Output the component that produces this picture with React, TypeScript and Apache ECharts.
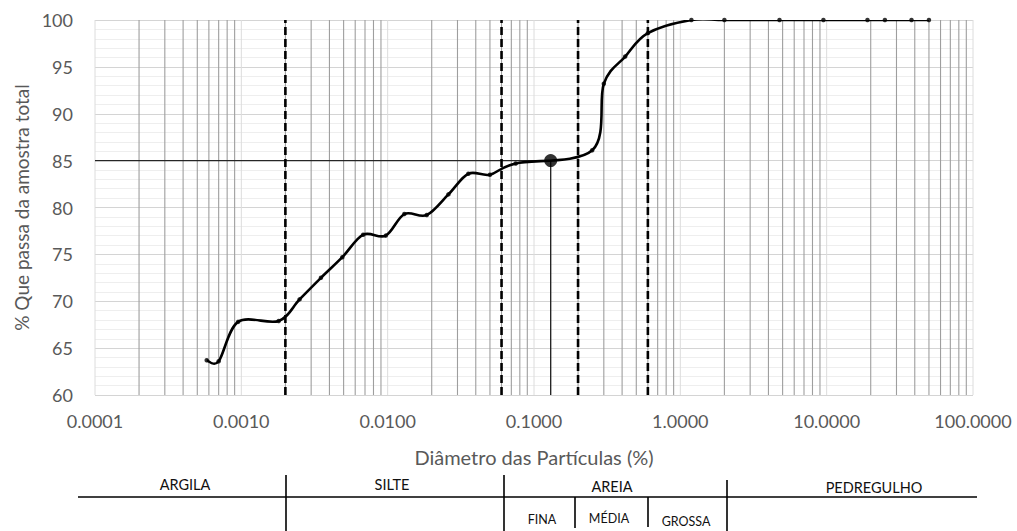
import React, { useEffect, useRef } from "react";
import * as echarts from "echarts";

// Data
const diameters = [
  0.00058, 0.0007, 0.00095, 0.0018, 0.0025, 0.0035, 0.0049, 0.0068, 0.0097,
  0.013, 0.0185, 0.026, 0.0356, 0.05, 0.075, 0.25, 0.3, 0.42, 0.6, 1.19, 2.0,
  4.76, 9.5, 19.0, 25.0, 38.0, 50.0,
];
const passing = [
  63.7, 63.6, 67.8, 67.9, 70.2, 72.5, 74.7, 77.1, 77.0, 79.3, 79.2, 81.4, 83.6,
  83.5, 84.7, 86.1, 93.2, 96.1, 98.6, 100, 100, 100, 100, 100, 100, 100, 100,
];
const d85Diameter = 0.13;
const d85Value = 85;
const boundaryDiameters = [0.002, 0.06, 0.2, 0.6];

const xMin = 0.0001;
const xMax = 100;
const yMin = 60;
const yMax = 100;
const yInterval = 5;

const xAxisName = "Diâmetro das Partículas (%)";
const yAxisName = "% Que passa da amostra total";

const tableMain = ["ARGILA", "SILTE", "AREIA", "PEDREGULHO"];
const tableSub = ["FINA", "MÉDIA", "GROSSA"];

// log gridlines: decades and 2..9 of each decade
const decadeX: number[] = [];
const minorX: number[] = [];
for (let e = -4; e <= 2; e++) {
  decadeX.push(Number(Math.pow(10, e).toPrecision(3)));
  if (e < 2) {
    for (let m = 2; m <= 9; m++) {
      minorX.push(Number((m * Math.pow(10, e)).toPrecision(3)));
    }
  }
}

const FONT = "Lato, 'Open Sans', sans-serif";

export default function App() {
  const ref = useRef<HTMLDivElement>(null);

  useEffect(() => {
    document.body.style.margin = "0";
    if (!ref.current) return;
    const chart = echarts.init(ref.current, undefined, { renderer: "svg" });

    const curve = diameters.map((d, i) => [d, passing[i]]);

    const lineEl = (x1: number, y1: number, x2: number, y2: number, w = 1.6) => ({
      type: "line",
      shape: { x1, y1, x2, y2 },
      style: { stroke: "#000", lineWidth: w },
      silent: true,
    });
    const textEl = (x: number, y: number, text: string, size: number) => ({
      type: "text",
      x,
      y,
      style: {
        text,
        fill: "#111",
        font: `${size}px ${FONT}`,
        align: "center",
        verticalAlign: "middle",
      },
      silent: true,
    });

    // vertical lines across the plot at given diameters
    const vLines = (values: number[], color: string, width: number, dash: number[] | null, z: number) => ({
      type: "custom",
      data: values.map((v) => [v, yMin]),
      encode: { x: 0, y: 1 },
      z,
      silent: true,
      clip: false,
      renderItem: (_params: any, api: any) => {
        const x = api.value(0);
        const p1 = api.coord([x, yMin]);
        const p2 = api.coord([x, yMax]);
        const style: any = { stroke: color, lineWidth: width, fill: "none" };
        if (dash) style.lineDash = dash;
        return {
          type: "line",
          shape: { x1: p1[0], y1: p1[1], x2: p2[0], y2: p2[1] },
          style,
        };
      },
    });

    // Excel-like smoothed curve (Catmull-Rom in pixel space)
    const renderCurve = (params: any, api: any) => {
      if (params.dataIndex !== 0) return null;
      const pts = curve.map((p) => api.coord(p));
      let d = `M${pts[0][0]},${pts[0][1]}`;
      for (let i = 0; i < pts.length - 1; i++) {
        const p0 = pts[Math.max(0, i - 1)];
        const p1 = pts[i];
        const p2 = pts[i + 1];
        const p3 = pts[Math.min(pts.length - 1, i + 2)];
        const c1x = p1[0] + (p2[0] - p0[0]) / 6;
        const c1y = p1[1] + (p2[1] - p0[1]) / 6;
        const c2x = p2[0] - (p3[0] - p1[0]) / 6;
        const c2y = p2[1] - (p3[1] - p1[1]) / 6;
        d += ` C${c1x},${c1y} ${c2x},${c2y} ${p2[0]},${p2[1]}`;
      }
      return {
        type: "path",
        shape: { pathData: d },
        style: { stroke: "#000", lineWidth: 2.6, fill: "none" },
      };
    };

    chart.setOption({
      animation: false,
      backgroundColor: "#fff",
      grid: { left: 95, right: 44, top: 20, bottom: 136 },
      xAxis: {
        type: "log",
        logBase: 10,
        min: xMin,
        max: xMax,
        splitNumber: 6,
        name: xAxisName,
        nameLocation: "middle",
        nameGap: 52,
        nameTextStyle: { color: "#595959", fontSize: 20, fontFamily: FONT },
        axisLine: { show: false },
        axisTick: { show: false },
        axisLabel: {
          color: "#595959",
          fontSize: 18,
          fontFamily: FONT,
          margin: 17,
          formatter: (v: number) => v.toFixed(4),
        },
        splitLine: { show: false },
      },
      yAxis: {
        type: "value",
        min: yMin,
        max: yMax,
        interval: yInterval,
        name: yAxisName,
        nameLocation: "middle",
        nameRotate: 90,
        nameGap: 64,
        nameTextStyle: { color: "#595959", fontSize: 19, fontFamily: FONT },
        axisLine: { show: false },
        axisTick: { show: false },
        axisLabel: { color: "#595959", fontSize: 18, fontFamily: FONT, margin: 22 },
        splitLine: { show: true, lineStyle: { color: "#d4d4d4", width: 1 } },
        minorTick: { show: false, splitNumber: 5 },
        minorSplitLine: { show: true, lineStyle: { color: "#eeeeee", width: 1 } },
      },
      series: [
        vLines(decadeX, "#dcdcdc", 1, null, 1),
        vLines(minorX, "#9e9e9e", 1.1, null, 1),
        vLines(boundaryDiameters, "#000", 2.6, [8, 4], 4),
        {
          type: "line",
          data: [
            [xMin, d85Value],
            [d85Diameter, d85Value],
            [d85Diameter, yMin],
          ],
          showSymbol: false,
          symbol: "none",
          z: 3,
          lineStyle: { color: "#262626", width: 1.4 },
        },
        {
          type: "custom",
          data: curve,
          clip: true,
          z: 5,
          silent: true,
          renderItem: renderCurve,
        },
        {
          type: "scatter",
          data: curve,
          symbol: "circle",
          symbolSize: 4.5,
          z: 6,
          itemStyle: { color: "#000" },
        },
        {
          type: "scatter",
          data: [[d85Diameter, d85Value]],
          symbolSize: 13,
          z: 7,
          itemStyle: { color: "#000" },
        },
      ],
      graphic: [
        lineEl(78, 497, 977, 497),
        lineEl(286, 475, 286, 531),
        lineEl(504, 475, 504, 531),
        lineEl(727, 480, 727, 531),
        lineEl(575, 497, 575, 528),
        lineEl(648, 497, 648, 527),
        textEl(185, 484, tableMain[0], 14.5),
        textEl(392, 484, tableMain[1], 14.5),
        textEl(612, 486, tableMain[2], 14.5),
        textEl(874, 487, tableMain[3], 14.5),
        textEl(542, 519, tableSub[0], 12.5),
        textEl(609, 518, tableSub[1], 12.5),
        textEl(686, 521, tableSub[2], 12.5),
      ],
    });

    return () => chart.dispose();
  }, []);

  return <div ref={ref} style={{ width: 1017, height: 531 }} />;
}
